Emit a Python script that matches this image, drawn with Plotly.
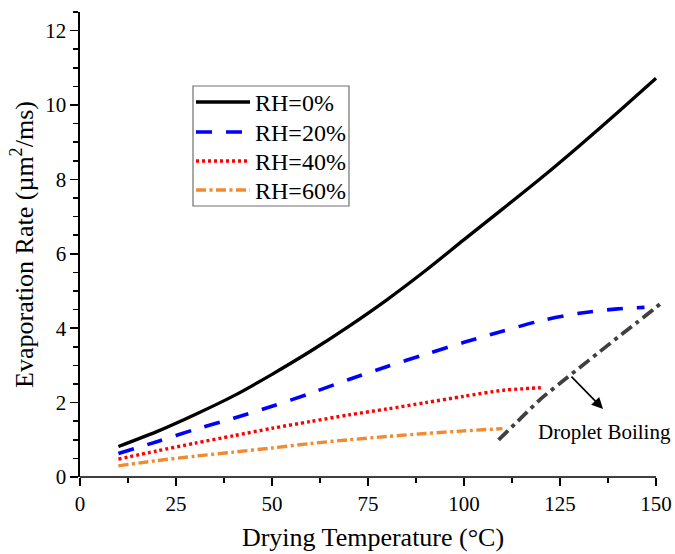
import plotly.graph_objects as go

# ---- data ----
series_names = ["RH=0%", "RH=20%", "RH=40%", "RH=60%"]

temp_rh0 = [10, 20, 30, 40, 50, 60, 70, 80, 90, 100, 110, 120, 130, 140, 150]
rate_rh0 = [0.82, 1.22, 1.68, 2.18, 2.76, 3.38, 4.05, 4.77, 5.55, 6.38, 7.20, 8.03, 8.90, 9.80, 10.72]

temp_rh20 = [10, 20, 30, 40, 50, 60, 70, 80, 90, 100, 110, 120, 130, 140, 147]
rate_rh20 = [0.63, 0.95, 1.28, 1.58, 1.90, 2.25, 2.62, 2.97, 3.30, 3.62, 3.92, 4.20, 4.40, 4.52, 4.56]

temp_rh40 = [10, 20, 30, 40, 50, 60, 70, 80, 90, 100, 110, 115, 120]
rate_rh40 = [0.48, 0.70, 0.91, 1.11, 1.31, 1.49, 1.67, 1.83, 2.00, 2.17, 2.33, 2.37, 2.40]

temp_rh60 = [10, 20, 30, 40, 50, 60, 70, 80, 90, 100, 110]
rate_rh60 = [0.30, 0.44, 0.56, 0.67, 0.78, 0.90, 1.00, 1.09, 1.17, 1.24, 1.30]

temp_boil = [109, 115, 120, 125, 130, 135, 140, 145, 150, 152]
rate_boil = [1.00, 1.60, 2.10, 2.52, 2.93, 3.34, 3.75, 4.15, 4.56, 4.73]

boil_label = "Droplet Boiling"
boil_arrow_tail = (127.6, 2.74)
boil_arrow_head = (136.2, 1.83)
boil_text_pos = (136.6, 1.22)

x_ticks = [0, 25, 50, 75, 100, 125, 150]
y_ticks = [0, 2, 4, 6, 8, 10, 12]
X_MAX = 152.6
Y_MAX = 12.5

FONT = "Liberation Serif"

styles = [
    dict(color="#000000", width=3.3, dash="solid"),
    dict(color="#0000FF", width=3.6, dash="16px,14px"),
    dict(color="#FF0000", width=3.4, dash="3px,3px"),
    dict(color="#F28A30", width=3.4, dash="10px,3.5px,3px,3.5px"),
]
boil_style = dict(color="#404040", width=3.8, dash="13px,5px,4px,5px")

xs = [temp_rh0, temp_rh20, temp_rh40, temp_rh60]
ys = [rate_rh0, rate_rh20, rate_rh40, rate_rh60]

fig = go.Figure()
for name, x, y, st in zip(series_names, xs, ys, styles):
    fig.add_trace(go.Scatter(x=x, y=y, mode="lines", name=name,
                             line=dict(shape="spline", smoothing=0.8, **st),
                             showlegend=False))
fig.add_trace(go.Scatter(x=temp_boil, y=rate_boil, mode="lines", name=boil_label,
                         line=dict(shape="spline", smoothing=0.8, **boil_style),
                         showlegend=False))

# ---- layout geometry ----
W, H = 675, 554
ML, MR, MT, MB = 80, 9, 12, 77
PW = W - ML - MR
PH = H - MT - MB


def px2paper_x(px):
    return (px - ML) / PW


def px2paper_y(py):
    return (H - MB - py) / PH


shapes = []
annotations = []

# x-axis line only up to 150
shapes.append(dict(type="line", xref="paper", yref="paper",
                   x0=0, x1=x_ticks[-1] / X_MAX, y0=0, y1=0,
                   line=dict(color="black", width=1.6)))

# manual legend box
shapes.append(dict(type="rect", xref="paper", yref="paper",
                   x0=px2paper_x(193), x1=px2paper_x(349),
                   y0=px2paper_y(206), y1=px2paper_y(86),
                   line=dict(color="#707070", width=1.2), fillcolor="rgba(255,255,255,0)"))
row_py = [102, 132, 161, 190]
for name, st, py in zip(series_names, styles, row_py):
    shapes.append(dict(type="line", xref="paper", yref="paper",
                       x0=px2paper_x(196), x1=px2paper_x(250),
                       y0=px2paper_y(py), y1=px2paper_y(py),
                       line=dict(color=st["color"], width=st["width"], dash=st["dash"])))
    annotations.append(dict(xref="paper", yref="paper",
                            x=px2paper_x(253), y=px2paper_y(py + 1),
                            xanchor="left", yanchor="middle", showarrow=False,
                            text=name, font=dict(family=FONT, size=24, color="black")))

# droplet boiling arrow + label
annotations.append(dict(x=boil_arrow_head[0], y=boil_arrow_head[1],
                        ax=boil_arrow_tail[0], ay=boil_arrow_tail[1],
                        xref="x", yref="y", axref="x", ayref="y",
                        showarrow=True, arrowhead=2, arrowsize=1.4, arrowwidth=1.6,
                        arrowcolor="black", text=""))
annotations.append(dict(x=boil_text_pos[0], y=boil_text_pos[1], xref="x", yref="y",
                        showarrow=False, text=boil_label, xanchor="center", yanchor="middle",
                        font=dict(family=FONT, size=21, color="black")))

fig.update_layout(
    width=W, height=H,
    margin=dict(l=ML, r=MR, t=MT, b=MB, autoexpand=False),
    paper_bgcolor="white", plot_bgcolor="white",
    font=dict(family=FONT, color="black"),
    shapes=shapes, annotations=annotations,
    showlegend=False,
)

fig.update_xaxes(
    range=[0, X_MAX], tickmode="array", tickvals=x_ticks,
    ticktext=[str(v) for v in x_ticks],
    ticks="outside", ticklen=8, tickwidth=1.5, tickcolor="black",
    minor=dict(dtick=12.5, tick0=0, ticks="outside", ticklen=5, tickwidth=1.5, tickcolor="black"),
    showline=False, showgrid=False, zeroline=False, automargin=False,
    tickfont=dict(family=FONT, size=21, color="black"),
    title=dict(text="Drying Temperature (°C)", font=dict(family=FONT, size=26, color="black"),
               standoff=12),
)
fig.update_yaxes(
    range=[0, Y_MAX], tickmode="array", tickvals=y_ticks,
    ticktext=[str(v) for v in y_ticks],
    ticks="outside", ticklen=8, tickwidth=1.5, tickcolor="black",
    minor=dict(dtick=0.5, tick0=0, ticks="outside", ticklen=5, tickwidth=1.5, tickcolor="black"),
    showline=True, linecolor="black", linewidth=1.6,
    showgrid=False, zeroline=False, automargin=False,
    tickfont=dict(family=FONT, size=21, color="black"),
    title=dict(text="Evaporation Rate (µm<sup>2</sup>/ms)",
               font=dict(family=FONT, size=26, color="black"), standoff=4),
)

# remove the default page margin / scrollbars so the figure fills the window exactly
page_fix = ("document.documentElement.style.margin='0';"
            "document.documentElement.style.overflow='hidden';"
            "document.body.style.margin='0';"
            "document.body.style.overflow='hidden';")

fig.write_html("out.html", post_script=page_fix,
               config={"displayModeBar": False, "staticPlot": True})
